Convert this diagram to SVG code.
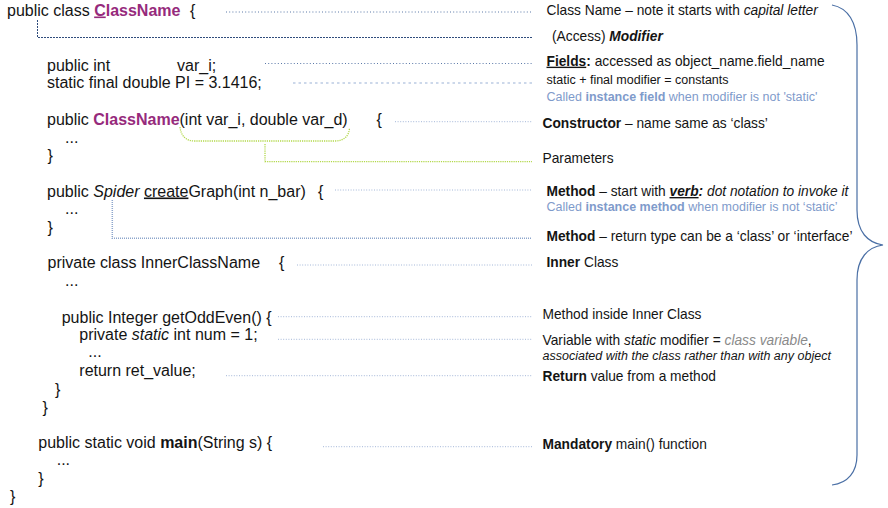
<svg xmlns="http://www.w3.org/2000/svg" width="888" height="508" viewBox="0 0 888 508">
<style>
text{font-family:"Liberation Sans",Arial,sans-serif;fill:#141414}
.code{font-size:16px}
.lbl{font-size:13.75px}
.sm{font-size:12.5px}
.note{font-size:12.5px;fill:#7f9bcb}
.b{font-weight:bold}
.i{font-style:italic}
.u{text-decoration:underline}
.cn{font-weight:bold;fill:#962a7c}
.gray{fill:#8a8a8a}
.ln{fill:none;stroke:#5a78a8;stroke-width:1;stroke-dasharray:1 2.2}
.lnd{fill:none;stroke:#2f4c7c;stroke-width:1;stroke-dasharray:2 1}
.lnl{fill:none;stroke:#a4b7d8;stroke-width:1;stroke-dasharray:1 1.6}
.lnt{fill:none;stroke:#bccbe3;stroke-width:1.6;stroke-dasharray:2.5 3}
.lnm{fill:none;stroke:#8ea6cc;stroke-width:1.5;stroke-dasharray:1 1}
.grn{fill:none;stroke:#b2d84a;stroke-width:1.3;stroke-dasharray:1.2 1}
.brace{fill:none;stroke:#4a6fa5;stroke-width:1.2}
</style>

<g id="connectors">
<line class="ln" x1="226" y1="12" x2="532" y2="12"/>
<polyline class="lnd" points="37.5,20 37.5,37.5 532,37.5"/>
<line class="ln" x1="265" y1="63.5" x2="532" y2="63.5"/>
<line class="lnt" x1="293" y1="83" x2="532" y2="83"/>
<line class="lnl" x1="395" y1="121.7" x2="532" y2="121.7"/>
<path class="grn" d="M180,127 C181,136 186,141 195,141 L335,141 C344,141 349,136 349.5,128"/>
<polyline class="grn" points="265,144 265,161.7 532,161.7"/>
<line class="lnl" x1="335" y1="190" x2="532" y2="190"/>
<polyline class="lnm" points="112.3,200 112.3,238.3 532,238.3"/>
<line class="lnl" x1="297" y1="265" x2="532" y2="265"/>
<line class="lnl" x1="278" y1="316.7" x2="532" y2="316.7"/>
<line class="lnl" x1="278" y1="339.3" x2="532" y2="339.3"/>
<line class="lnl" x1="226" y1="375.7" x2="532" y2="375.7"/>
<line class="lnl" x1="323" y1="446.7" x2="532" y2="446.7"/>
<path class="brace" d="M832,5 C848,8 857,22 857,45 L857,210 C857,232 868,243 883,245 C868,247 857,258 857,280 L857,455 C857,472 848,483 832,485"/>
</g>

<g id="class-header">
<text class="code" x="7" y="15.5">public class <tspan class="cn"><tspan class="u">C</tspan>lassName</tspan></text>
<text class="code" x="190" y="15.5">{</text>
<text class="lbl" x="546.5" y="15">Class Name – note it starts with <tspan class="i">capital letter</tspan></text>
</g>

<g id="access-modifier">
<text class="lbl" x="552" y="40.5">(Access) <tspan class="b i">Modifier</tspan></text>
</g>

<g id="fields">
<text class="code" x="47" y="71">public int</text>
<text class="code" x="177" y="71">var_i;</text>
<text class="code" x="47" y="87.5">static final double PI = 3.1416;</text>
<text class="lbl" x="546.5" y="65.7"><tspan class="b u">Fields</tspan><tspan class="b">:</tspan> accessed as object_name.field_name</text>
<text class="sm" x="546.5" y="84">static + final modifier = constants</text>
<text class="note" x="546.5" y="100.7">Called <tspan class="b">instance field</tspan> when modifier is not 'static'</text>
</g>

<g id="constructor">
<text class="code" x="47" y="124.5">public <tspan class="cn">ClassName</tspan>(int var_i, double var_d)</text>
<text class="code" x="376.5" y="124.5">{</text>
<text class="code" x="65" y="142.5">...</text>
<text class="code" x="47.5" y="161">}</text>
<text class="lbl" x="542.5" y="128.3"><tspan class="b">Constructor</tspan> – name same as ‘class’</text>
</g>

<g id="parameters">
<text class="lbl" x="542.5" y="163.3">Parameters</text>
</g>

<g id="method">
<text class="code" x="47" y="196.5">public <tspan class="i">Spider</tspan> <tspan class="u">create</tspan>Graph(int n_bar)</text>
<text class="code" x="318" y="196.5">{</text>
<text class="code" x="65" y="214.3">...</text>
<text class="code" x="47.5" y="232.7">}</text>
<text class="lbl" x="546.5" y="196"><tspan class="b">Method</tspan> – start with <tspan class="b i"><tspan class="u">verb</tspan>:</tspan> <tspan class="i">dot notation to invoke it</tspan></text>
<text class="note" x="546.5" y="211.3">Called <tspan class="b">instance method</tspan> when modifier is not ‘static’</text>
</g>

<g id="method-return">
<text class="lbl" x="546.5" y="241"><tspan class="b">Method</tspan> – return type can be a ‘class’ or ‘interface’</text>
</g>

<g id="inner-class">
<text class="code" x="47.5" y="268.3">private class InnerClassName</text>
<text class="code" x="279" y="268.3">{</text>
<text class="code" x="65" y="286">...</text>
<text class="code" x="55" y="395">}</text>
<text class="code" x="42.5" y="413">}</text>
<text class="lbl" x="546.5" y="267.3"><tspan class="b">Inner</tspan> Class</text>
</g>

<g id="inner-method">
<text class="code" x="61.7" y="323">public Integer getOddEven() {</text>
<text class="code" x="88.3" y="357.3">...</text>
<text class="lbl" x="542.5" y="319">Method inside Inner Class</text>
</g>

<g id="static-variable">
<text class="code" x="79.3" y="340">private <tspan class="i">static</tspan> int num = 1;</text>
<text class="lbl" x="542.5" y="345">Variable with <tspan class="i">static</tspan> modifier = <tspan class="i gray">class variable</tspan>,</text>
<text class="sm i" x="542.5" y="359.5">associated with the class rather than with any object</text>
</g>

<g id="return-value">
<text class="code" x="79.3" y="376">return ret_value;</text>
<text class="lbl" x="542.5" y="381"><tspan class="b">Return</tspan> value from a method</text>
</g>

<g id="main-function">
<text class="code" x="38.3" y="448.3">public static void <tspan class="b">main</tspan>(String s) {</text>
<text class="code" x="56.7" y="465">...</text>
<text class="code" x="38.3" y="484">}</text>
<text class="code" x="10" y="501.7">}</text>
<text class="lbl" x="542.5" y="449"><tspan class="b">Mandatory</tspan> main() function</text>
</g>
</svg>
